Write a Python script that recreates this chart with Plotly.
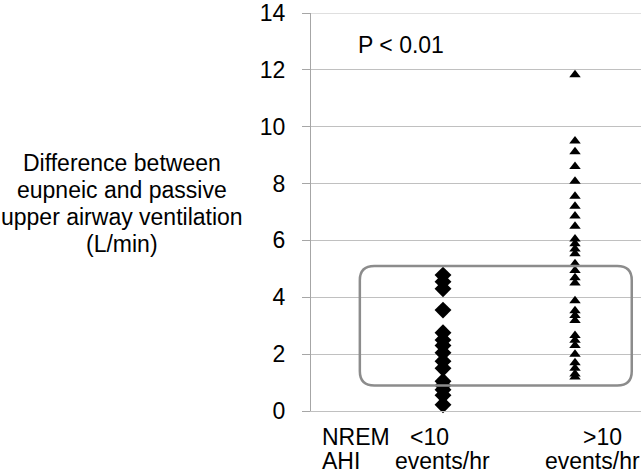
import plotly.graph_objects as go

# data
low_ahi = [4.78, 4.55, 4.3, 3.55, 2.75, 2.5, 2.3, 2.05, 1.75, 1.5, 1.05, 0.9, 0.75, 0.55, 0.22]
high_ahi = [11.83, 9.5, 9.12, 8.6, 8.08, 7.55, 7.2, 6.86, 6.5, 6.05, 5.88, 5.7, 5.53, 5.18,
            4.94, 4.69, 4.5, 3.88, 3.53, 3.36, 3.18, 2.66, 2.49, 2.3, 2.0, 1.7, 1.5, 1.3, 1.2]
group_pos = [1, 2]
y_ticks = [0, 2, 4, 6, 8, 10, 12, 14]
y_title_lines = ["Difference between", "eupneic and passive", "upper airway ventilation", "(L/min)"]

FONT = "Liberation Sans, Arial, sans-serif"
fs = 23
GRID = "#c0c0c0"
AXIS = "#a6a6a6"

W, H = 641, 475
L, R, T, B = 311, 0, 11, 64
pw, ph = W - L - R, H - T - B

fig = go.Figure()
fig.add_trace(go.Scatter(x=[group_pos[0]] * len(low_ahi), y=low_ahi, mode="markers",
                         marker=dict(symbol="diamond", size=13, color="black"),
                         showlegend=False, cliponaxis=False))
fig.add_trace(go.Scatter(x=[group_pos[1]] * len(high_ahi), y=high_ahi, mode="markers",
                         marker=dict(symbol="triangle-up", size=10, color="black"),
                         showlegend=False, cliponaxis=False))

# top gridline (plotly may skip the edge gridline)
fig.add_shape(type="line", xref="paper", yref="y", x0=0, x1=1, y0=14, y1=14,
              line=dict(color=GRID, width=1), layer="below")

# rounded box
x0, x1, y0, y1 = 0.37, 2.43, 0.9, 5.1
rx, ry = 0.11, 0.5
path = (f"M {x0+rx},{y0} L {x1-rx},{y0} Q {x1},{y0} {x1},{y0+ry} "
        f"L {x1},{y1-ry} Q {x1},{y1} {x1-rx},{y1} L {x0+rx},{y1} "
        f"Q {x0},{y1} {x0},{y1-ry} L {x0},{y0+ry} Q {x0},{y0} {x0+rx},{y0} Z")
fig.add_shape(type="path", path=path, xref="x", yref="y",
              line=dict(color="#8c8c8c", width=2.5), layer="above")

layout_ann = []
def to_paper(xp, yp):
    return (xp - L) / pw, (H - B - yp) / ph

def add_px(text, xp, yp, xanchor="left", align="left"):
    px, py = to_paper(xp, yp)
    layout_ann.append(dict(text=text, x=px, y=py, xref="paper", yref="paper", showarrow=False,
                           font=dict(size=fs, color="black", family=FONT),
                           xanchor=xanchor, yanchor="middle", align=align))

for i, line in enumerate(y_title_lines):
    add_px(line, 122, 162 + 27 * i, xanchor="center", align="center")
add_px("P &lt; 0.01", 356, 43)
add_px("NREM", 320, 437)
add_px("AHI", 320, 461)
add_px("&lt;10", 408, 437)
add_px("events/hr", 442, 461, xanchor="center")
add_px("&gt;10", 581, 437)
add_px("events/hr", 592, 461, xanchor="center")

fig.update_layout(
    width=W, height=H,
    margin=dict(l=L, r=R, t=T, b=B, pad=0),
    plot_bgcolor="white", paper_bgcolor="white",
    font=dict(family=FONT, size=fs, color="black"),
    annotations=layout_ann,
    xaxis=dict(range=[0, 2.5], showgrid=False, zeroline=False, showticklabels=False,
               ticks="", showline=True, linecolor=GRID, linewidth=1, fixedrange=True),
    yaxis=dict(range=[0, 14], tickvals=y_ticks, showgrid=True, gridcolor=GRID, gridwidth=1,
               zeroline=False, showline=True, linecolor=AXIS, linewidth=1,
               ticks="outside", ticklen=8, tickcolor=AXIS, ticklabelstandoff=12,
               ticklabeloverflow="allow",
               tickfont=dict(size=fs, color="black", family=FONT)),
)

fig.write_html("out.html", config={"displayModeBar": False},
               post_script="document.body.style.margin='0px';")
